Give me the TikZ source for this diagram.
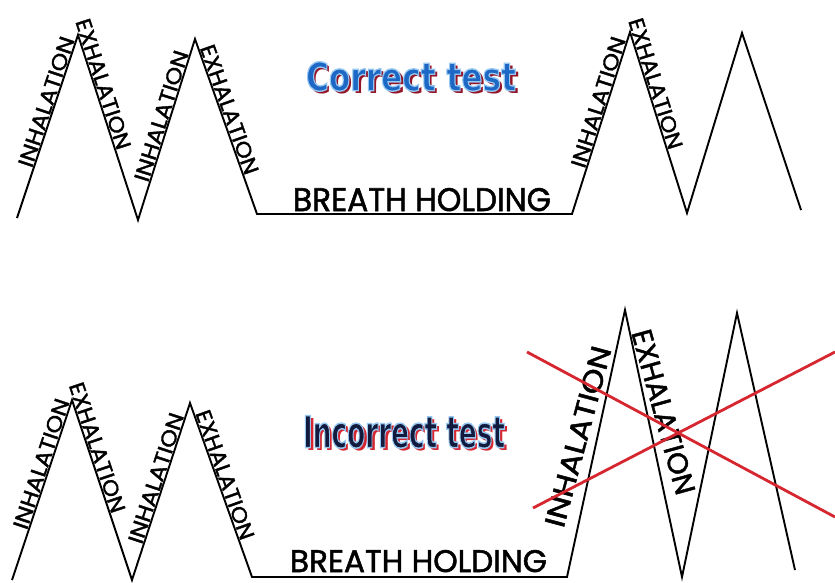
\documentclass[tikz,border=0pt]{standalone}
\usepackage{fontspec}
\usepackage{graphicx}
\newfontfamily\labfont{Poppins}[FakeBold=1.6]
\newfontfamily\heavyfont{DejaVu Sans}
\definecolor{xred}{RGB}{214,38,48}
\definecolor{cblue}{RGB}{28,104,196}
\definecolor{lblue}{RGB}{150,200,240}
\definecolor{shred}{RGB}{150,20,40}
\definecolor{navy}{RGB}{18,26,62}
\newcommand{\lbl}[1]{\resizebox{136pt}{15pt}{\labfont #1}}
\newcommand{\breath}{\resizebox{258pt}{23pt}{\labfont BREATH HOLDING}}
% outlined text: fill with current colour, stroke light blue
\newcommand{\outl}[1]{\special{pdf:code q 2 Tr 0.35 w 0.59 0.78 0.94 RG}#1\special{pdf:code Q}}
\begin{document}
\begin{tikzpicture}[x=1pt,y=-1pt,
  wave/.style={line width=1.9pt, line join=miter},
  lab/.style={sloped, above, inner sep=1.2pt},
  xline/.style={xred, line width=2.8pt},
  title/.style={inner sep=0pt}]
\useasboundingbox[fill=white] (0,0) rectangle (835,583);
% ---------- top waveform ----------
\coordinate (t0) at (17,218);
\coordinate (t1) at (78,35);
\coordinate (t2) at (138,220);
\coordinate (t3) at (195,39);
\coordinate (t4) at (257,214);
\coordinate (t5) at (572,214);
\coordinate (t6) at (630,32);
\coordinate (t7) at (687,213);
\coordinate (t8) at (742,33);
\coordinate (t9) at (801,210);
\draw[wave] (t0) -- (t1) -- (t2) -- (t3) -- (t4) -- (t5) -- (t6) -- (t7) -- (t8) -- (t9);
\path (t0) -- (t1) node[lab, pos=0.62] (ti1) {\lbl{INHALATION}};
\path (t1) -- (t2) node[lab, pos=0.28] (te1) {\lbl{EXHALATION}};
\path (t2) -- (t3) node[lab, pos=0.56] (ti2) {\lbl{INHALATION}};
\path (t3) -- (t4) node[lab, pos=0.42] (te2) {\lbl{EXHALATION}};
\path (t5) -- (t6) node[lab, pos=0.60] (ti3) {\lbl{INHALATION}};
\path (t6) -- (t7) node[lab, pos=0.30] (te3) {\lbl{EXHALATION}};
\node[anchor=base, inner sep=0pt] (tbh) at (422,211) {\breath};
% title top
\node[title, text=shred] (cts) at (414,79.5) {\resizebox{210pt}{29pt}{\heavyfont\bfseries Correct test}};
\node[title, text=cblue] (ct) at (411,76.5) {\resizebox{210pt}{29pt}{\heavyfont\bfseries\outl{Correct test}}};
% ---------- bottom waveform ----------
\coordinate (b0) at (12,580);
\coordinate (b1) at (72,400);
\coordinate (b2) at (132,580);
\coordinate (b3) at (190,403);
\coordinate (b4) at (252,577);
\coordinate (b5) at (567,577);
\coordinate (b6) at (625,310);
\coordinate (b7) at (682,577);
\coordinate (b8) at (737,313);
\coordinate (b9) at (795,570);
\draw[wave] (b0) -- (b1) -- (b2) -- (b3) -- (b4) -- (b5) -- (b6) -- (b7) -- (b8) -- (b9);
\path (b0) -- (b1) node[lab, pos=0.63] (bi1) {\lbl{INHALATION}};
\path (b1) -- (b2) node[lab, pos=0.28] (be1) {\lbl{EXHALATION}};
\path (b2) -- (b3) node[lab, pos=0.56] (bi2) {\lbl{INHALATION}};
\path (b3) -- (b4) node[lab, pos=0.43] (be2) {\lbl{EXHALATION}};
\node[rotate=75, inner sep=0pt] (bi3) at (578,436.5) {\resizebox{186pt}{20pt}{\labfont INHALATION}};
\node[rotate=-74.5, inner sep=0pt] (be3) at (663.5,412) {\resizebox{170pt}{20pt}{\labfont EXHALATION}};
\node[anchor=base, inner sep=0pt] (bbh) at (418.5,572) {\resizebox{257pt}{22pt}{\labfont BREATH HOLDING}};
% title bottom
\node[title, text=xred] (its) at (407,435) {\resizebox{202pt}{32pt}{\heavyfont\bfseries Incorrect test}};
\node[title, text=navy] (it) at (404,432) {\resizebox{202pt}{32pt}{\heavyfont\bfseries\outl{Incorrect test}}};
% red cross
\coordinate (x1a) at (527,352);
\coordinate (x1b) at (835,517);
\coordinate (x2a) at (533,508);
\coordinate (x2b) at (835,352);
\draw[xline] (x1a) -- (x1b);
\draw[xline] (x2a) -- (x2b);
\end{tikzpicture}
\end{document}
